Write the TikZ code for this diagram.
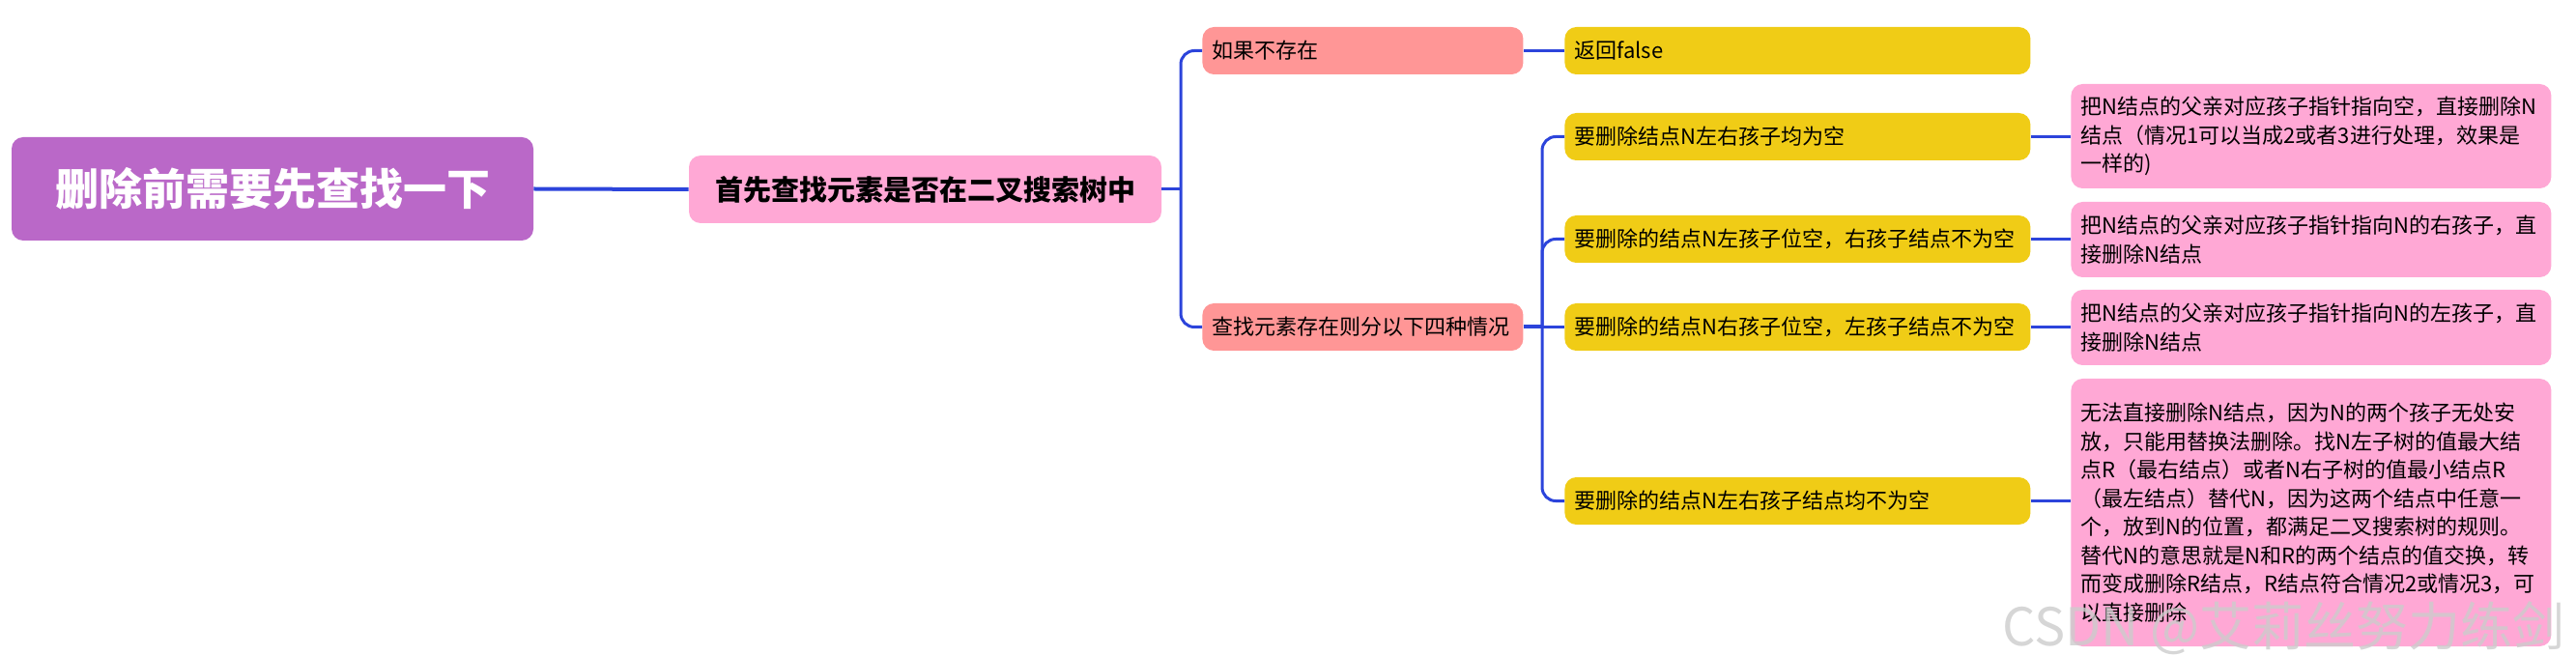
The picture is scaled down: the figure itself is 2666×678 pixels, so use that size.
\documentclass[tikz,border=0pt]{standalone}
\usepackage{fontspec}
\setmainfont{Noto Sans CJK SC}
\usetikzlibrary{positioning,calc}
\definecolor{mmPurple}{RGB}{186,104,200}
\definecolor{mmPink}{RGB}{255,168,213}
\definecolor{mmSalmon}{RGB}{255,150,150}
\definecolor{mmYellow}{RGB}{240,204,22}
\definecolor{mmBlue}{RGB}{44,68,219}

\begin{document}
\begin{tikzpicture}[x=0.5pt,y=-0.5pt,
      topic/.style={rounded corners=6pt,inner xsep=5pt,inner ysep=0pt,anchor=west,align=left,font=\fontsize{11}{14.75}\selectfont},
      lvlone/.style={topic,fill=mmSalmon,text width=156pt,minimum height=24.5pt},
      lvltwo/.style={topic,fill=mmYellow,text width=231pt,minimum height=24.5pt},
      leaf/.style={topic,fill=mmPink,text width=238.5pt},
      conn/.style={draw=mmBlue,line width=1.5pt,rounded corners=7pt},
      trunk/.style={conn,line width=2pt}
    ]
    \useasboundingbox (0,0) rectangle (2666,678);
    \node[fill=mmPurple,text=white,rounded corners=6pt,minimum width=270pt,minimum height=53.5pt,font=\bfseries\fontsize{22.5}{27}\selectfont] (root) at (282,195.5) {删除前需要先查找一下};
    \node[fill=mmPink,rounded corners=6pt,minimum width=244.5pt,minimum height=35pt,font=\bfseries\fontsize{14.5}{18}\selectfont] (find) at (957.5,196) {首先查找元素是否在二叉搜索树中};
    \node[lvlone] (ifnot) at (1244,52.5) {如果不存在};
    \node[lvlone] (exist) at (1244,338.5) {查找元素存在则分以下四种情况};
    \node[lvltwo] (ret) at (1619,52.5) {返回false};
    \node[lvltwo] (c1) at (1619,141.5) {要删除结点N左右孩子均为空};
    \node[lvltwo] (c2) at (1619,247.5) {要删除的结点N左孩子位空，右孩子结点不为空};
    \node[lvltwo] (c3) at (1619,338.5) {要删除的结点N右孩子位空，左孩子结点不为空};
    \node[lvltwo] (c4) at (1619,518.5) {要删除的结点N左右孩子结点均不为空};
    \node[leaf,minimum height=54pt] (d1) at (2143,141) {把N结点的父亲对应孩子指针指向空，直接删除N\\结点（情况1可以当成2或者3进行处理，效果是\\一样的)};
    \node[leaf,minimum height=39pt] (d2) at (2143,248) {把N结点的父亲对应孩子指针指向N的右孩子，直\\接删除N结点};
    \node[leaf,minimum height=39pt] (d3) at (2143,339) {把N结点的父亲对应孩子指针指向N的左孩子，直\\接删除N结点};
    \node[leaf,minimum height=138.5pt] (d4) at (2143,530.5) {无法直接删除N结点，因为N的两个孩子无处安\\放，只能用替换法删除。找N左子树的值最大结\\点R（最右结点）或者N右子树的值最小结点R\\（最左结点）替代N，因为这两个结点中任意一\\个，放到N的位置，都满足二叉搜索树的规则。\\替代N的意思就是N和R的两个结点的值交换，转\\而变成删除R结点，R结点符合情况2或情况3，可\\以直接删除};
    \coordinate (b1) at (1222,196);
    \coordinate (b2) at (1596,338.5);
    \draw[trunk] (root.east) -- (find.west);
    \draw[conn] (find.east) -- (b1);
    \draw[conn] (ifnot.west) -| (b1) |- (exist.west);
    \draw[conn] (ifnot.east) -- (ret.west);
    \draw[trunk] (exist.east) -- (b2);
    \draw[conn] (c1.west) -| (b2) |- (c4.west);
    \draw[conn] (c2.west) -| (b2);
    \draw[conn] (c3.west) -- (b2);
    \foreach \i in {1,...,4}
      \draw[conn] (c\i.east) -- (c\i.east -| d\i.west);
    \node[anchor=base east,text=gray!40,opacity=0.8,font=\fontsize{27}{30}\selectfont] (wm) at (2662,668) {CSDN @艾莉丝努力练剑};
  \end{tikzpicture}
\end{document}
